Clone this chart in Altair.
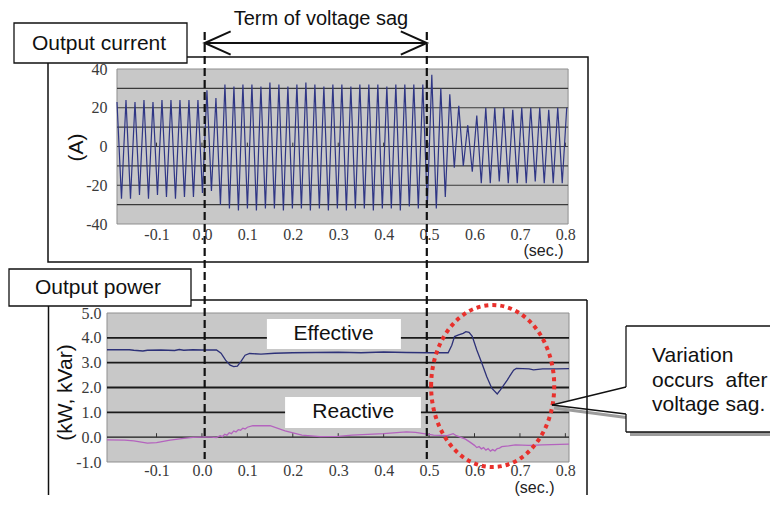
import altair as alt
import pandas as pd

# ---------------- data ----------------
# Output current (A): one value per half cycle, first sample at t_start
t_start = -0.187
half_cycle = 0.0099
current_pre = [23, -27, 24, -27, 23, -25, 24, -27, 23, -25, 24, -26, 24, -27, 24, -26, 24, -26, 24]
current_sag = [-24, 29, -23, 25, -30, 32, -32, 31, -33, 32, -32, 32, -33, 31, -32, 33, -32, 32, -33, 31,
               -32, 32, -32, 33, -33, 32, -32, 31, -33, 32, -32, 32, -33, 31, -32, 32, -32, 32, -33, 32,
               -32, 31, -32, 32, -33, 32, -31, 32, -32, 32, -31]
current_post = [37, -32, 30, -26, 27, -11, 21, -10, 11, -13, 16, -19, 20, -19, 20, -18, 20, -19, 19, -19,
                20, -19, 20, -18, 20, -19, 19, -19, 20, -19, 20]
current = current_pre + current_sag + current_post
current_t = [round(t_start + half_cycle * i, 4) for i in range(len(current))]

# Output power (kW / kVar)
eff_t = [-0.209, -0.16, -0.15, -0.13, -0.12, -0.09, -0.06, -0.05, -0.04, -0.02, 0.0, 0.032, 0.042, 0.052,
         0.062, 0.07, 0.078, 0.086, 0.095, 0.105, 0.13, 0.16, 0.2, 0.25, 0.3, 0.35, 0.4, 0.45, 0.5, 0.542,
         0.55, 0.556, 0.565, 0.575, 0.581, 0.588, 0.595, 0.605, 0.616, 0.627, 0.638, 0.650, 0.657, 0.672,
         0.686, 0.692, 0.72, 0.73, 0.75, 0.78, 0.808]
eff_v = [3.52, 3.52, 3.50, 3.47, 3.50, 3.51, 3.49, 3.53, 3.50, 3.52, 3.51, 3.51, 3.38, 3.10,
         2.90, 2.84, 2.86, 3.05, 3.30, 3.37, 3.34, 3.38, 3.40, 3.41, 3.42, 3.40, 3.43, 3.41, 3.40, 3.40,
         3.70, 4.05, 4.12, 4.18, 4.25, 4.22, 4.06, 3.51, 2.99, 2.43, 1.97, 1.74, 1.90, 2.30,
         2.70, 2.77, 2.75, 2.71, 2.75, 2.75, 2.76]
rea_t = [-0.209, -0.17, -0.15, -0.12, -0.10, -0.07, -0.04, -0.02, 0.0, 0.02, 0.032,
         0.04, 0.045, 0.05, 0.055, 0.06, 0.065, 0.07, 0.075, 0.08, 0.085, 0.09, 0.095, 0.10,
         0.112, 0.15, 0.183, 0.22, 0.26, 0.30, 0.33, 0.40, 0.45, 0.47, 0.51, 0.54, 0.553, 0.56, 0.58, 0.59,
         0.60, 0.605, 0.61, 0.615, 0.62, 0.625, 0.63, 0.635, 0.64, 0.645, 0.65, 0.655, 0.66,
         0.675, 0.69, 0.72, 0.75, 0.808]
rea_v = [-0.11, -0.12, -0.15, -0.24, -0.22, -0.12, -0.05, -0.01, 0.0, 0.0, -0.02,
         0.06, 0.02, 0.12, 0.08, 0.18, 0.14, 0.25, 0.21, 0.30, 0.28, 0.36, 0.33, 0.40,
         0.46, 0.46, 0.25, 0.08, 0.02, 0.03, 0.08, 0.14, 0.21, 0.19, 0.08, 0.06, 0.14, 0.06, -0.08, -0.20,
         -0.33, -0.42, -0.38, -0.47, -0.42, -0.52, -0.46, -0.56, -0.50, -0.55, -0.46, -0.44, -0.38,
         -0.35, -0.31, -0.33, -0.31, -0.28]
assert len(eff_t) == len(eff_v) and len(rea_t) == len(rea_v)

x_ticks = [-0.1, 0.0, 0.1, 0.2, 0.3, 0.4, 0.5, 0.6, 0.7, 0.8]
y_ticks_top = [40, 20, 0, -20, -40]
grid_top = [30, 20, 10, 0, -10, -20, -30]
y_ticks_bot = [5, 4, 3, 2, 1, 0, -1]
grid_bot = [4, 3, 2, 1]

cur_df = pd.DataFrame({"t": current_t, "a": current})
eff_df = pd.DataFrame({"t": eff_t, "p": eff_v})
rea_df = pd.DataFrame({"t": rea_t, "p": rea_v})

# ---------------- styling ----------------
SANS = "Liberation Sans"
SERIF = "Liberation Serif"
W, H_TOP, H_BOT = 462, 155, 149
GRAY = "#c8c8c8"
xscale = alt.Scale(domain=[-0.209, 0.808], nice=False, zero=False)
ytop = alt.Scale(domain=[-40, 40], nice=False, zero=False)
ybot = alt.Scale(domain=[-1, 5], nice=False, zero=False)

lab_x = "datum.value < 0 ? '-' + format(-datum.value, '.1f') : format(datum.value, '.1f')"
lab_top = "datum.value < 0 ? '-' + format(-datum.value, 'd') : format(datum.value, 'd')"

common = dict(domain=False, ticks=False, grid=False, labelFont=SERIF, labelFontSize=16,
              labelColor="#3a3a3a", titleFont=SANS, titleFontWeight="normal",
              titleAlign="center", titleBaseline="middle")
ax_tx = alt.Axis(values=x_ticks, labelExpr=lab_x, labelPadding=2, title="(sec.)", titleFontSize=16,
                 titleColor="#222", titleX=436, titleY=26, zindex=1, **common)
ax_ty = alt.Axis(values=y_ticks_top, labelExpr=lab_top, labelPadding=0, title="(A)", titleFontSize=21,
                 titleColor="#111", titleX=-31, titleY=78, zindex=1, **common)
ax_bx = alt.Axis(values=x_ticks, labelExpr=lab_x, labelPadding=0, title="(sec.)", titleFontSize=16,
                 titleColor="#222", titleX=427, titleY=25, **common)
ax_by = alt.Axis(values=y_ticks_bot, labelExpr=lab_x, labelPadding=6, title="(kW, kVar)", titleFontSize=21,
                 titleColor="#111", titleX=-42, titleY=79, **common)


def xdt(v):
    return alt.XDatum(v, axis=ax_tx, scale=xscale)


def xdb(v):
    return alt.XDatum(v, axis=ax_bx, scale=xscale)


def ydt(v):
    return alt.YDatum(v, axis=ax_ty, scale=ytop)


def ydb(v):
    return alt.YDatum(v, axis=ax_by, scale=ybot)


def px(x, y, x2=None, y2=None):
    enc = dict(x=alt.value(x), y=alt.value(y))
    if x2 is not None:
        enc["x2"] = alt.value(x2)
    if y2 is not None:
        enc["y2"] = alt.value(y2)
    return enc


def label(text, size=21, **kw):
    return alt.Chart().mark_text(text=text, font=SANS, fontSize=size, color="#111",
                                 align="center", baseline="middle", **kw)


# ---------------- top panel: output current ----------------
page_bg = alt.Chart().mark_rect(fill="white").encode(**px(-99, -61, 663, 426))
frame_top = alt.Chart().mark_rect(fillOpacity=0, stroke="#111", strokeWidth=1.5).encode(**px(-59, -12, 481, 193))
gray_top = alt.Chart().mark_rect(fill=GRAY, stroke="#8f8f8f", strokeWidth=1).encode(
    x=xdt(-0.187), x2=alt.X2Datum(0.806), y=alt.value(0), y2=alt.value(H_TOP))
grid_t = alt.Chart(pd.DataFrame({"g": grid_top})).mark_rule(color="#3a3a3a", strokeWidth=1.2).encode(
    y=alt.Y("g:Q", scale=ytop, axis=ax_ty), x=xdt(-0.187), x2=alt.X2Datum(0.806))
ticks_t = alt.Chart(pd.DataFrame({"t": x_ticks})).mark_rule(color="#333", strokeWidth=1).encode(
    x=alt.X("t:Q", scale=xscale, axis=ax_tx), y=ydt(0), y2=alt.Y2Datum(2))
cur_line = alt.Chart(cur_df).mark_line(color="#2f3685", strokeWidth=1.2).encode(
    x=alt.X("t:Q", scale=xscale, axis=ax_tx),
    y=alt.Y("a:Q", scale=ytop, axis=ax_ty))
oc_box = alt.Chart().mark_rect(fill="white", stroke="#111", strokeWidth=1.3).encode(**px(-93, -46, 80, -6))
oc_text = label("Output current").encode(**px(-8, -25))
arrow = alt.Chart().mark_rule(color="#111", strokeWidth=2).encode(
    x=xdt(0.006), x2=alt.X2Datum(0.495), y=alt.value(-26))
chev_l = alt.Chart().mark_point(shape="M 1 -0.45 L 0 0 L 1 0.45", size=2704, filled=False,
                                color="#111", strokeWidth=2, opacity=1).encode(x=xdt(0.006), y=alt.value(-26))
chev_r = alt.Chart().mark_point(shape="M -1 -0.45 L 0 0 L -1 0.45", size=2704, filled=False,
                                color="#111", strokeWidth=2, opacity=1).encode(x=xdt(0.495), y=alt.value(-26))
term_text = label("Term of voltage sag", size=20).encode(x=xdt(0.262), y=alt.value(-50))

top = alt.layer(page_bg, frame_top, gray_top, grid_t, ticks_t, cur_line, oc_box, oc_text,
                arrow, chev_l, chev_r, term_text).properties(width=W, height=H_TOP)

# ---------------- bottom panel: output power ----------------
gray_bot = alt.Chart().mark_rect(fill=GRAY, stroke="#8f8f8f", strokeWidth=1).encode(
    x=xdb(-0.209), x2=alt.X2Datum(0.808), y=alt.value(0), y2=alt.value(H_BOT))
grid_b = alt.Chart(pd.DataFrame({"g": grid_bot})).mark_rule(color="#1a1a1a", strokeWidth=1.8).encode(
    y=alt.Y("g:Q", scale=ybot, axis=ax_by))
zero_b = alt.Chart().mark_rule(color="#1a1a1a", strokeWidth=1.2).encode(y=ydb(0))
ticks_b = alt.Chart(pd.DataFrame({"t": x_ticks})).mark_rule(color="#333", strokeWidth=1).encode(
    x=alt.X("t:Q", scale=xscale, axis=ax_bx), y=ydb(0), y2=alt.Y2Datum(0.16))
eff_line = alt.Chart(eff_df).mark_line(color="#2d3178", strokeWidth=1.3).encode(
    x=alt.X("t:Q", scale=xscale, axis=ax_bx),
    y=alt.Y("p:Q", scale=ybot, axis=ax_by))
rea_line = alt.Chart(rea_df).mark_line(color="#b463be", strokeWidth=1.3).encode(
    x=alt.X("t:Q", scale=xscale, axis=ax_bx), y=alt.Y("p:Q", scale=ybot, axis=ax_by))

eff_box = alt.Chart().mark_rect(fill="white").encode(
    x=xdb(0.143), x2=alt.X2Datum(0.438), y=ydb(3.55), y2=alt.Y2Datum(4.76))
eff_text = label("Effective").encode(x=xdb(0.29), y=ydb(4.17))
rea_box = alt.Chart().mark_rect(fill="white").encode(
    x=xdb(0.183), x2=alt.X2Datum(0.482), y=ydb(0.37), y2=alt.Y2Datum(1.62))
rea_text = label("Reactive").encode(x=xdb(0.333), y=ydb(1.0))

ellipse = alt.Chart().mark_point(
    shape="M -0.76 0 A 0.76 1 0 1 1 0.76 0 A 0.76 1 0 1 1 -0.76 0 Z", size=26244, filled=False,
    color="#e8302c", stroke="#e8302c", strokeWidth=4, strokeDash=[4, 4], opacity=1).encode(
    x=xdb(0.64), y=ydb(2.06))

# callout box (pixel positions relative to the lower plot)
co_shadow = alt.Chart().mark_rect(fill="#9c9c9c").encode(**px(523, 17, 663, 123))
ptr_shadow = alt.Chart().mark_rule(color="#9c9c9c", strokeWidth=3).encode(**px(447, 95, 523, 105))
co_box = alt.Chart().mark_rect(fill="white").encode(**px(519, 13, 663, 119))
ptr_fill = alt.Chart().mark_point(shape="M -1 0.12 L 1.08 -0.384 L 1.08 0.375 Z", size=5476, filled=True,
                                  fill="white", color="white", strokeWidth=0, opacity=1).encode(**px(482, 87.5))
co_lines = [
    alt.Chart().mark_rule(color="#111", strokeWidth=1.3).encode(**px(519, 13, 663, 13)),
    alt.Chart().mark_rule(color="#111", strokeWidth=1.3).encode(**px(519, 119, 663, 119)),
    alt.Chart().mark_rule(color="#111", strokeWidth=1.3).encode(**px(519, 13, 519, 74)),
    alt.Chart().mark_rule(color="#111", strokeWidth=1.3).encode(**px(519, 101, 519, 119)),
    alt.Chart().mark_rule(color="#111", strokeWidth=1.3).encode(**px(445, 92, 519, 74)),
    alt.Chart().mark_rule(color="#111", strokeWidth=1.3).encode(**px(445, 92, 519, 101)),
]
co_text = alt.Chart().mark_text(text=["Variation", "occurs\u00a0\u00a0after", "voltage sag."], font=SANS,
                                fontSize=21, color="#111", align="left", baseline="middle",
                                lineHeight=24.5).encode(**px(545, 43))

frame_bot = [
    alt.Chart().mark_rule(color="#111", strokeWidth=1.5).encode(**px(-58.5, -13, 480, -13)),
    alt.Chart().mark_rule(color="#111", strokeWidth=1.5).encode(**px(-58.5, -13, -58.5, 182)),
    alt.Chart().mark_rule(color="#111", strokeWidth=1.5).encode(**px(480, -13, 480, 182)),
]
op_box = alt.Chart().mark_rect(fill="white", stroke="#111", strokeWidth=1.3).encode(**px(-98, -44, 84, -7))
op_text = label("Output power").encode(**px(-9, -25))

dashes = [
    alt.Chart().mark_rule(color="#111", strokeWidth=2.2, strokeDash=[8, 4]).encode(
        x=xdb(v), y=alt.value(-281), y2=alt.value(146)) for v in (0.006, 0.495)
]

bottom = alt.layer(gray_bot, grid_b, zero_b, ticks_b, eff_line, rea_line, eff_box, eff_text, rea_box,
                   rea_text, ellipse, co_shadow, ptr_shadow, co_box, ptr_fill, *co_lines, co_text,
                   *frame_bot, op_box, op_text, *dashes).properties(width=W, height=H_BOT)

chart = alt.vconcat(top, bottom, spacing=89, bounds="flush", padding=0).configure_view(strokeWidth=0)

chart.save("out.html", embed_options={"renderer": "svg", "actions": False})
